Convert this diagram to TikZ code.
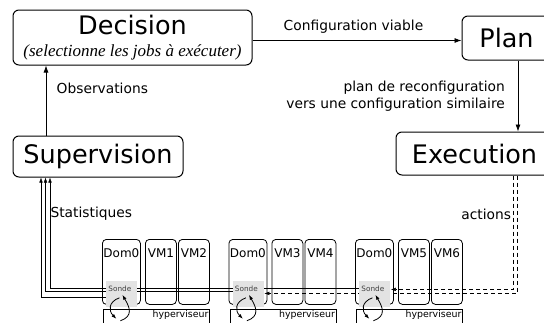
\documentclass[tikz,border=0pt]{standalone}
\usepackage{fontspec}
\setmainfont{DejaVu Sans}
\newfontfamily\itfont{Liberation Serif}
\usepackage{tikz}
\usetikzlibrary{arrows.meta,backgrounds,calc}

\begin{document}
\begin{tikzpicture}[x=1pt,y=-1pt,>={Latex[length=7pt,width=5pt]},line width=.8pt,
    etape/.style={draw,rounded corners=6pt,line width=1pt,font=\fontsize{25.5}{28}\selectfont},
    petit/.style={font=\fontsize{13.8}{16.5}\selectfont},
    boite/.style={draw,rounded corners=4pt,anchor=north west,inner xsep=0pt,inner ysep=9pt,
      text height=9pt,text depth=38pt,font=\fontsize{12}{14}\selectfont},
    sonde/.style={fill=gray!22,anchor=north west,inner sep=2pt,text width=27pt,text height=7.7pt,
      text depth=14.3pt,align=left,text=black!75,font=\fontsize{7.3}{8}\selectfont},
    hyp/.style={draw,anchor=north west,inner sep=1pt,text width=104pt,align=right,
      text height=7.5pt,text depth=10.5pt,font=\fontsize{9.4}{11}\selectfont},
    petitefleche/.style={-{Latex[length=5pt,width=3.5pt]}},
    actionline/.style={petitefleche,dash pattern=on 4pt off 3pt}]
          \useasboundingbox (0,0) rectangle (544,322);
          \node[etape,minimum width=239pt,minimum height=55pt,align=center,font=\fontsize{17}{22}\selectfont] (dec) at (132.5,37.5)
            {{\fontsize{25.5}{22}\selectfont Decision}\\{\itfont\itshape (selectionne les jobs à exécuter)}};
          \node[etape,minimum width=89pt,minimum height=44pt] (plan) at (506.5,38) {Plan};
          \node[etape,minimum width=170pt,minimum height=41pt] (sup) at (98,156.5) {Supervision};
          \node[etape,minimum width=157pt,minimum height=43pt] (ex) at (474.5,153.5) {Execution};
          \draw[->] ($(dec.east)+(0,3)$) -- ($(plan.west |- dec.east)+(0,3)$)
            node[petit,midway,above,xshift=-3.5pt,yshift=3pt] {Configuration viable};
          \draw[->] ($(sup.north)+(-52,0)$) -- ($(sup.north |- dec.south)+(-52,0)$)
            node[petit,pos=.67,right,xshift=7pt] {Observations};
          \draw[->] ($(plan.south)+(11.5,0)$) -- ($(plan.south |- ex.north)+(11.5,0)$)
            node[petit,midway,left,align=right,xshift=-9.4pt] {plan de reconfiguration\\vers une configuration similaire};
          \foreach \i/\x/\a/\b in {1/102/1/2,2/228.5/3/4,3/355/5/6}{
            \node[boite,minimum width=38pt] (d\i) at (\x,239) {Dom0};
            \node[boite,minimum width=31pt] (vm\a) at (\x+43,239) {VM\a};
            \node[boite,minimum width=31pt] (vm\b) at (\x+76,239) {VM\b};
            \node[hyp] (h\i) at (\x+1,309) {hyperviseur};
            \node[sonde] (s\i) at (\x+4,281) {Sonde};
            \draw[petitefleche] ($(s\i.south)+(-2.5,-10)$) to[out=200,in=135,looseness=1.4] ($(s\i.south)+(-5.5,11)$);
            \draw[petitefleche] ($(s\i.south)+(-1.5,13)$) to[out=20,in=-60,looseness=1.4] ($(s\i.south)+(.5,-13)$);
          }
          \begin{scope}[on background layer]
            \draw[petitefleche] ($(s1.west)+(0,3)$) -| ($(sup.south)+(-57,0)$);
            \draw[petitefleche] ($(s2.west)+(0,-3)$) -| ($(sup.south)+(-52.5,0)$);
            \draw[petitefleche] ($(s3.west)+(0,-6)$) -| ($(sup.south)+(-48,0)$)
              node[petit,pos=.835,right,xshift=-3pt] {Statistiques};
            \draw[actionline] ($(ex.south)+(38.5,0)$) |- ($(s3.east)+(0,-5)$)
              node[petit,pos=.17,left,xshift=1.5pt] {actions};
            \draw[actionline] ($(ex.south)+(42.5,0)$) |- ($(s2.east)+(0,-1)$);
          \end{scope}
        \end{tikzpicture}
\end{document}
